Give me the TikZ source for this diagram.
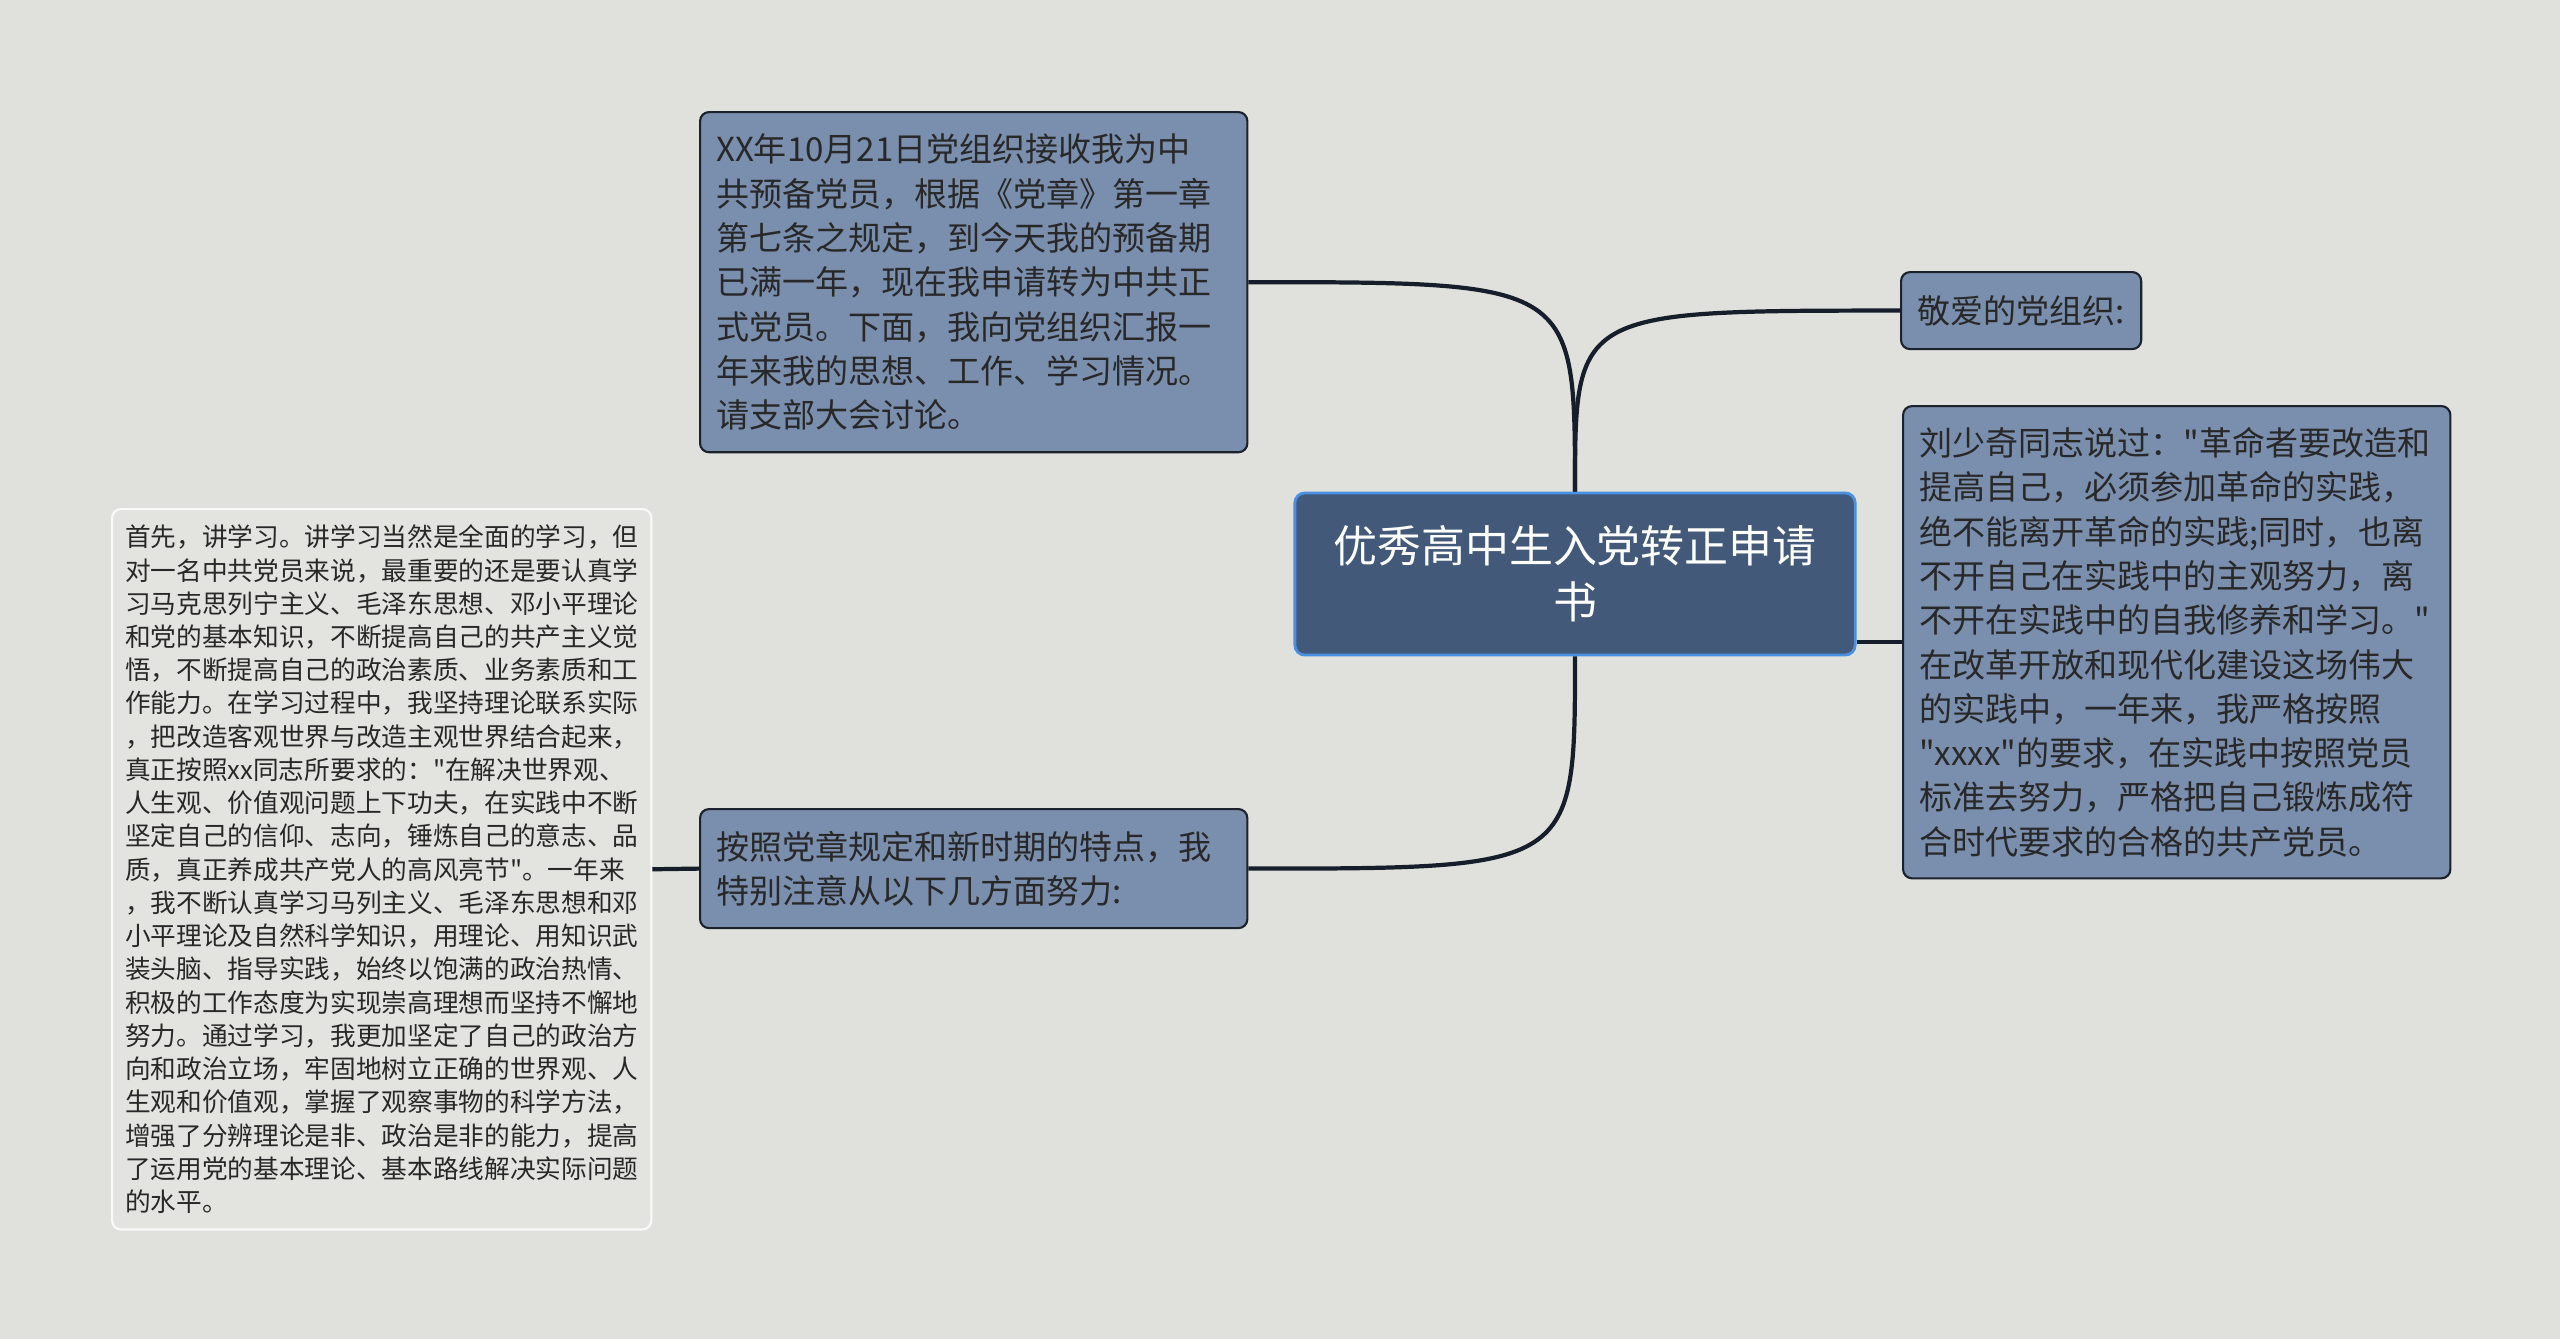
\documentclass[tikz,border=0pt]{standalone}
\usepackage{fontspec}
\newfontfamily\cjk{Noto Sans CJK SC}

\definecolor{paper}{RGB}{224,225,220}
\definecolor{rootfill}{RGB}{67,89,121}
\definecolor{rootline}{RGB}{74,144,226}
\definecolor{topicfill}{RGB}{122,142,173}
\definecolor{topicline}{RGB}{28,34,44}
\definecolor{notefill}{RGB}{227,228,223}
\definecolor{notetext}{RGB}{40,40,40}
\definecolor{linkc}{RGB}{22,30,44}

\begin{document}
\begin{tikzpicture}[x=0.01cm, y=-0.01cm,
    topic/.style={draw=topicline, fill=topicfill, line width=0.6pt, rounded corners=0.09cm,
        anchor=north west, inner xsep=0.16cm, inner ysep=0pt, align=left,
        text=notetext, font=\cjk\fontsize{9.4}{12.6}\selectfont},
    link/.style={draw=linkc, line width=1.2pt}]

    % background
    \fill[paper] (0,0) rectangle (2560,1339);
    \useasboundingbox (0,0) rectangle (2560,1339);

    \node[draw=rootline, fill=rootfill, line width=0.8pt, rounded corners=0.1cm,
        text=white, align=center, inner sep=0pt, minimum width=5.6cm, minimum height=1.62cm,
        font=\cjk\fontsize{12.5}{15.9}\selectfont] (root) at (1575,574)
        {优秀高中生入党转正申请\\书};

    \node[topic, text width=5.15cm, minimum height=3.4cm] (report) at (699,111)
        {XX年10月21日党组织接收我为中\\
        共预备党员，根据《党章》第一章\\
        第七条之规定，到今天我的预备期\\
        已满一年，现在我申请转为中共正\\
        式党员。下面，我向党组织汇报一\\
        年来我的思想、工作、学习情况。\\
        请支部大会讨论。};

    \node[topic, text width=5.15cm, minimum height=1.19cm] (effort) at (699,808)
        {按照党章规定和新时期的特点，我\\
        特别注意从以下几方面努力:};

    \node[topic, text width=2.08cm, minimum height=0.77cm] (greet) at (1900,271)
        {敬爱的党组织:};

    \node[topic, text width=5.15cm, minimum height=4.72cm] (quote) at (1902,405)
        {刘少奇同志说过："革命者要改造和\\
        提高自己，必须参加革命的实践，\\
        绝不能离开革命的实践;同时，也离\\
        不开自己在实践中的主观努力，离\\
        不开在实践中的自我修养和学习。"\\
        在改革开放和现代化建设这场伟大\\
        的实践中，一年来，我严格按照\\
        "xxxx"的要求，在实践中按照党员\\
        标准去努力，严格把自己锻炼成符\\
        合时代要求的合格的共产党员。};

    \node[draw=white!85!paper, fill=notefill, line width=0.6pt, rounded corners=0.09cm,
        anchor=north west, inner xsep=0.13cm, inner ysep=0pt, align=left,
        text=notetext, text width=5.13cm, minimum height=7.2cm,
        font=\cjk\fontsize{7.3}{9.45}\selectfont] (study) at (111,508)
        {首先，讲学习。讲学习当然是全面的学习，但\\
        对一名中共党员来说，最重要的还是要认真学\\
        习马克思列宁主义、毛泽东思想、邓小平理论\\
        和党的基本知识，不断提高自己的共产主义觉\\
        悟，不断提高自己的政治素质、业务素质和工\\
        作能力。在学习过程中，我坚持理论联系实际\\
        ，把改造客观世界与改造主观世界结合起来，\\
        真正按照xx同志所要求的："在解决世界观、\\
        人生观、价值观问题上下功夫，在实践中不断\\
        坚定自己的信仰、志向，锤炼自己的意志、品\\
        质，真正养成共产党人的高风亮节"。一年来\\
        ，我不断认真学习马列主义、毛泽东思想和邓\\
        小平理论及自然科学知识，用理论、用知识武\\
        装头脑、指导实践，始终以饱满的政治热情、\\
        积极的工作态度为实现崇高理想而坚持不懈地\\
        努力。通过学习，我更加坚定了自己的政治方\\
        向和政治立场，牢固地树立正确的世界观、人\\
        生观和价值观，掌握了观察事物的科学方法，\\
        增强了分辨理论是非、政治是非的能力，提高\\
        了运用党的基本理论、基本路线解决实际问题\\
        的水平。};

    % connectors
    \draw[link] (root.north) .. controls (root.north |- report.east) .. (report.east);
    \draw[link] (root.north) .. controls (root.north |- greet.west) .. (greet.west);
    \draw[link] (root.south) .. controls (root.south |- effort.east) .. (effort.east);
    \draw[link] (root.east |- quote.west) -- (quote.west);
    \draw[link] (effort.west) -- (study.east);

\end{tikzpicture}
\end{document}
